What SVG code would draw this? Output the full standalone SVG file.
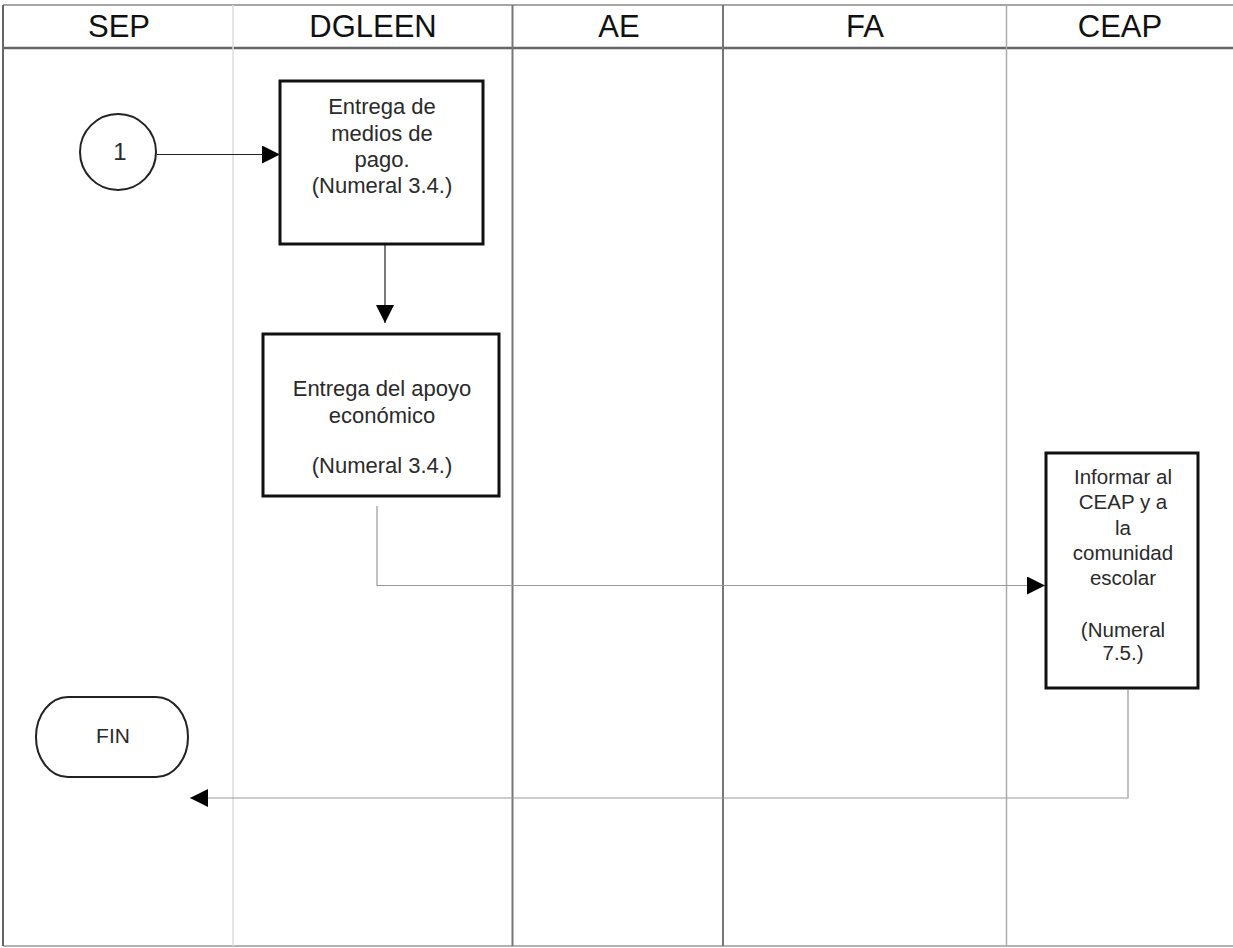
<svg xmlns="http://www.w3.org/2000/svg" width="1233" height="948" viewBox="0 0 1233 948">
<defs>
<style>
.hdr{font-family:"Liberation Sans",Arial,sans-serif;font-size:31px;fill:#111;text-anchor:middle}
.t{font-family:"Liberation Sans",Arial,sans-serif;font-size:22px;fill:#2a2a2a;text-anchor:middle}
.t3{font-family:"Liberation Sans",Arial,sans-serif;font-size:20.5px;fill:#2a2a2a;text-anchor:middle}
.box{fill:#fff;stroke:#111;stroke-width:3}
.shape{fill:#fff;stroke:#222;stroke-width:2}
.c{fill:none;stroke:#222;stroke-width:1.2}
.cg{fill:none;stroke:#999;stroke-width:1.2}
</style>
<marker id="ah" viewBox="0 0 10 10" refX="10" refY="5" markerWidth="18" markerHeight="18" markerUnits="userSpaceOnUse" orient="auto">
<path d="M0,0 L10,5 L0,10 Z" fill="#000"/>
</marker>
</defs>
<rect width="1233" height="948" fill="#fff"/>
<g id="lanes">
<line x1="3" y1="5" x2="1233" y2="5" stroke="#888" stroke-width="1.5"/>
<line x1="3" y1="48" x2="1233" y2="48" stroke="#666" stroke-width="2.5"/>
<line x1="3" y1="946" x2="1233" y2="946" stroke="#999" stroke-width="1.5"/>
<line x1="3" y1="5" x2="3" y2="946" stroke="#666" stroke-width="2"/>
<line x1="233" y1="5" x2="233" y2="946" stroke="#ddd" stroke-width="1.5"/>
<line x1="512.5" y1="5" x2="512.5" y2="946" stroke="#777" stroke-width="2"/>
<line x1="723" y1="5" x2="723" y2="946" stroke="#777" stroke-width="2"/>
<line x1="1006.5" y1="5" x2="1006.5" y2="946" stroke="#aaa" stroke-width="1.5"/>
<text class="hdr" x="119" y="37">SEP</text>
<text class="hdr" x="373" y="37">DGLEEN</text>
<text class="hdr" x="619" y="37">AE</text>
<text class="hdr" x="865" y="37">FA</text>
<text class="hdr" x="1120" y="37">CEAP</text>
</g>
<g id="connectors">
<line class="c" x1="157" y1="154.5" x2="280" y2="154.5" marker-end="url(#ah)"/>
<line class="c" x1="385" y1="245" x2="385" y2="323" marker-end="url(#ah)"/>
<polyline class="cg" points="377,506 377,585.5 1045,585.5" marker-end="url(#ah)"/>
<polyline class="cg" points="1128,690 1128,798 190,798" marker-end="url(#ah)"/>
</g>
<g id="n1">
<circle class="shape" cx="118" cy="152" r="38"/>
<text class="t" x="120" y="160" style="font-size:24px">1</text>
</g>
<g id="n2">
<rect class="box" x="280" y="81" width="203" height="163"/>
<text class="t" x="382" y="114">Entrega de</text>
<text class="t" x="382" y="141">medios de</text>
<text class="t" x="382" y="167">pago.</text>
<text class="t" x="382" y="193">(Numeral 3.4.)</text>
</g>
<g id="n3">
<rect class="box" x="263" y="334" width="236" height="162"/>
<text class="t" x="382" y="396">Entrega del apoyo</text>
<text class="t" x="382" y="423">económico</text>
<text class="t" x="382" y="473">(Numeral 3.4.)</text>
</g>
<g id="n4">
<rect class="box" x="1046" y="453" width="152" height="235"/>
<text class="t3" x="1123" y="484">Informar al</text>
<text class="t3" x="1123" y="509">CEAP y a</text>
<text class="t3" x="1123" y="535">la</text>
<text class="t3" x="1123" y="560">comunidad</text>
<text class="t3" x="1123" y="585">escolar</text>
<text class="t3" x="1123" y="637">(Numeral</text>
<text class="t3" x="1123" y="660">7.5.)</text>
</g>
<g id="n5">
<rect class="shape" x="36" y="697" width="152" height="80" rx="32" ry="40"/>
<text class="t" x="113" y="743" style="font-size:21px">FIN</text>
</g>
</svg>
